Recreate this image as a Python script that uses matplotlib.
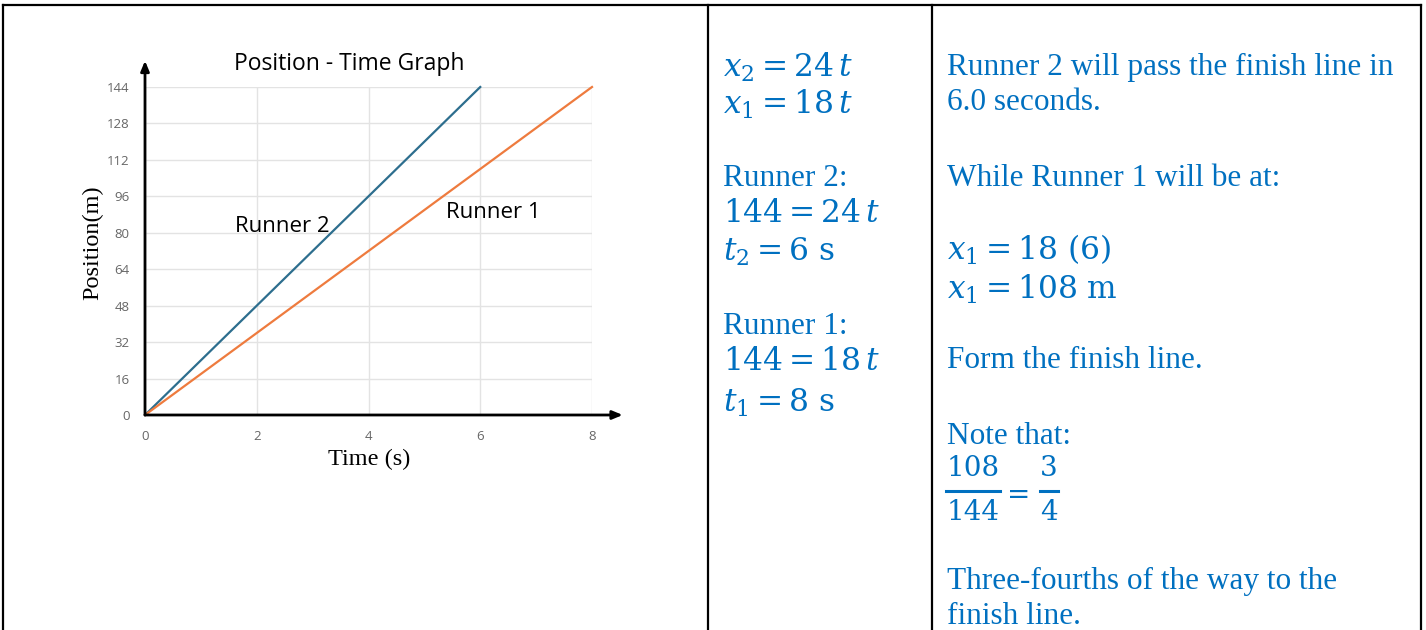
import matplotlib
matplotlib.use("Agg")
import matplotlib.pyplot as plt
from matplotlib.lines import Line2D

# ---- data ----
time_runner2 = [0, 6]
pos_runner2 = [0, 144]
time_runner1 = [0, 8]
pos_runner1 = [0, 144]
x_ticks = [0, 2, 4, 6, 8]
y_ticks = [0, 16, 32, 48, 64, 80, 96, 112, 128, 144]

W, H = 1426, 630
BLUE_TXT = "#0070C0"
TXT_SIZE = 22.5
plt.rcParams["mathtext.fontset"] = "dejavuserif"

fig = plt.figure(figsize=(W / 100, H / 100), dpi=100)
fig.patch.set_facecolor("white")


def fx(px):
    return px / W


def fy(py):
    return 1 - py / H


# ---- table borders ----
border_kw = dict(color="black", lw=1.6, transform=fig.transFigure)
fig.add_artist(Line2D([fx(3), fx(1421)], [fy(5), fy(5)], **border_kw))
for xv in (3, 708, 932, 1421):
    fig.add_artist(Line2D([fx(xv), fx(xv)], [fy(5), fy(632)], **border_kw))

# ---- graph ----
ax = fig.add_axes([fx(145), fy(415), fx(592) - fx(145), fy(87) - fy(415)])
ax.set_xlim(0, 8)
ax.set_ylim(0, 144)
ax.set_xticks(x_ticks)
ax.set_yticks(y_ticks)
ax.grid(True, color="#e3e3e3", lw=1.0)
ax.set_axisbelow(True)
for s in ax.spines.values():
    s.set_visible(False)
ax.tick_params(length=0, colors="#666666", labelsize=9.5, pad=11)
for lab in ax.get_xticklabels() + ax.get_yticklabels():
    lab.set_fontfamily("Open Sans")

ax.plot(time_runner2, pos_runner2, color="#2d6e8e", lw=1.6, clip_on=False)
ax.plot(time_runner1, pos_runner1, color="#ee7b3e", lw=1.6, clip_on=False)

# axes with arrow heads
arrow_kw = dict(arrowstyle="-|>,head_length=0.6,head_width=0.25", color="black", lw=2.0,
                shrinkA=0, shrinkB=0)
ax.annotate("", xy=(0, 155.5), xytext=(0, 0), xycoords="data",
            arrowprops=arrow_kw, annotation_clip=False)
ax.annotate("", xy=(8.55, 0), xytext=(0, 0), xycoords="data",
            arrowprops=arrow_kw, annotation_clip=False)

ax.text(1.61, 82.7, "Runner 2", fontsize=16, family="Open Sans", va="center", ha="left")
ax.text(5.39, 89, "Runner 1", fontsize=16, family="Open Sans", va="center", ha="left")

fig.text(fx(349), fy(64.5), "Position - Time Graph", fontsize=16.5, family="Open Sans",
         ha="center", va="center")
fig.text(fx(93), fy(243), "Position(m)", fontsize=17.5, family="Liberation Serif",
         rotation=90, ha="center", va="center")
fig.text(fx(369), fy(459), "Time (s)", fontsize=17.5, family="Liberation Serif",
         ha="center", va="center")

# ---- middle column ----
mid_lines = [
    (67, r"$x_2 = 24\,t$"),
    (104, r"$x_1 = 18\,t$"),
    (178, "Runner 2:"),
    (215, r"$144 = 24\,t$"),
    (252, r"$t_2 = 6\ \mathrm{s}$"),
    (326, "Runner 1:"),
    (363, r"$144 = 18\,t$"),
    (403, r"$t_1 = 8\ \mathrm{s}$"),
]
for py, s in mid_lines:
    fig.text(fx(723), fy(py), s, fontsize=TXT_SIZE, family="Liberation Serif",
             color=BLUE_TXT, ha="left", va="center")

# ---- right column ----
right_lines = [
    (67, "Runner 2 will pass the finish line in"),
    (103, "6.0 seconds."),
    (178, "While Runner 1 will be at:"),
    (250, r"$x_1 = 18\ (6)$"),
    (289, r"$x_1 = 108\ \mathrm{m}$"),
    (361, "Form the finish line."),
    (436, "Note that:"),
    (581, "Three-fourths of the way to the"),
    (616, "finish line."),
]
for py, s in right_lines:
    fig.text(fx(947), fy(py), s, fontsize=TXT_SIZE, family="Liberation Serif",
             color=BLUE_TXT, ha="left", va="center")

# fraction 108/144 = 3/4
frac_kw = dict(fontsize=20, family="DejaVu Serif", color=BLUE_TXT, va="center", ha="center")
fig.text(fx(973), fy(468), "108", **frac_kw)
fig.text(fx(973), fy(513), "144", **frac_kw)
fig.text(fx(1049), fy(468), "3", **frac_kw)
fig.text(fx(1049), fy(513), "4", **frac_kw)
fig.text(fx(1019), fy(496), "=", **frac_kw)
bar_kw = dict(color=BLUE_TXT, lw=2.2, transform=fig.transFigure)
fig.add_artist(Line2D([fx(946), fx(1000)], [fy(491), fy(491)], **bar_kw))
fig.add_artist(Line2D([fx(1040), fx(1058)], [fy(491), fy(491)], **bar_kw))

fig.savefig("out.png", dpi=100, facecolor="white")
